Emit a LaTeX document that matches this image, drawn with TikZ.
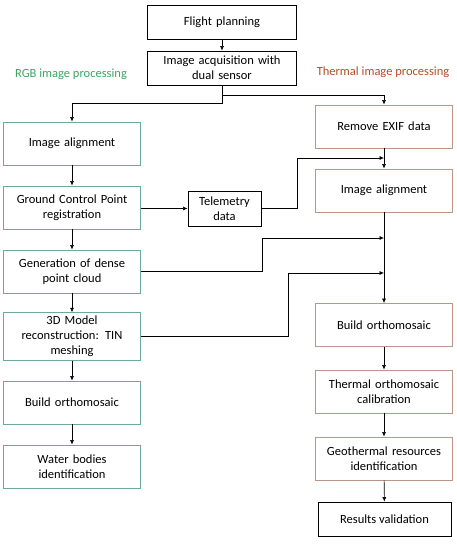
\documentclass[tikz,border=0pt]{standalone}
\usepackage{fontspec}
\setmainfont{Carlito}
\usepackage{xcolor}
\usetikzlibrary{positioning, arrows.meta}

\definecolor{rgbline}{RGB}{110,170,155}
\definecolor{rgbtext}{RGB}{60,165,100}
\definecolor{thline}{RGB}{185,150,135}
\definecolor{thtext}{RGB}{180,75,40}

\begin{document}
\begin{tikzpicture}[
  x=1pt, y=-1pt,
  font=\fontsize{12.5}{15}\selectfont,
  box/.style={draw, thick, fill=white, minimum width=148pt, minimum height=34pt, align=center, text width=142pt},
  rgbbox/.style={draw=rgbline, thick, minimum width=134pt, minimum height=43pt, align=center, text width=130pt},
  thbox/.style={draw=thline, thick, minimum width=134pt, minimum height=43pt, align=center, text width=130pt},
  arr/.style={-{Latex[length=4.5pt, width=4pt]}, semithick},
]
  \useasboundingbox (0,0) rectangle (457,550);

  % Common steps
  \node[box] (flight) at (222,22) {Flight planning};
  \node[box] (acq) at (222,68) {Image acquisition with\\dual sensor};
  \draw[arr] (flight) -- (acq);

  \node[text=rgbtext] (rgblabel) at (71,74) {RGB image processing};
  \node[text=thtext] (thlabel) at (383,72) {Thermal image processing};

  % RGB branch
  \node[rgbbox] (ralign) at (72,143.5) {Image alignment};
  \node[rgbbox] (gcp) at (72,207.5) {Ground Control Point\\registration};
  \node[rgbbox] (dense) at (72,271.5) {Generation of dense\\point cloud};
  \node[rgbbox, minimum height=47pt] (mesh) at (72,336.5) {3D Model\\reconstruction: TIN\\meshing};
  \node[rgbbox] (rortho) at (72,402.5) {Build orthomosaic};
  \node[rgbbox] (water) at (72,466.5) {Water bodies\\identification};

  \draw[arr] (ralign) -- (gcp);
  \draw[arr] (gcp) -- (dense);
  \draw[arr] (dense) -- (mesh);
  \draw[arr] (mesh) -- (rortho);
  \draw[arr] (rortho) -- (water);

  % Telemetry
  \node[draw, thick, minimum width=73pt, minimum height=35pt, align=center] (tele) at (224.5,208.5) {Telemetry\\data};
  \draw[arr] (gcp.east |- tele.west) -- (tele.west);

  % Thermal branch
  \node[thbox] (exif) at (384,126.5) {Remove EXIF data};
  \node[thbox] (talign) at (384,190.5) {Image alignment};
  \node[thbox] (tortho) at (384,325) {Build orthomosaic};
  \node[thbox] (calib) at (384,391.5) {Thermal orthomosaic\\calibration};
  \node[thbox] (geo) at (384,458.5) {Geothermal resources\\identification};
  \node[draw, thick, minimum width=133pt, minimum height=34pt] (valid) at (384.5,519) {Results validation};

  \draw[arr] (exif) -- (talign);
  \draw[arr] (talign) -- (tortho);
  \draw[arr] (tortho) -- (calib);
  \draw[arr] (calib) -- (geo);
  \draw[arr] (geo) -- (valid);

  % Split after acquisition
  \draw[arr] (acq.south) -- (222,95) -| (exif.north);
  \draw[arr] (acq.south) -- (222,103) -| (ralign.north);

  % Inputs to thermal alignment
  \coordinate (in1) at (384,158);
  \coordinate (in2) at (384,238);
  \coordinate (in3) at (384,273);
  \draw[arr] (tele.east) -- (297,208.5) |- (in1);
  \draw[arr] (dense.east) -- (262,271.5) |- (in2);
  \draw[arr] (mesh.east) -- (288,336.5) |- (in3);
\end{tikzpicture}
\end{document}
